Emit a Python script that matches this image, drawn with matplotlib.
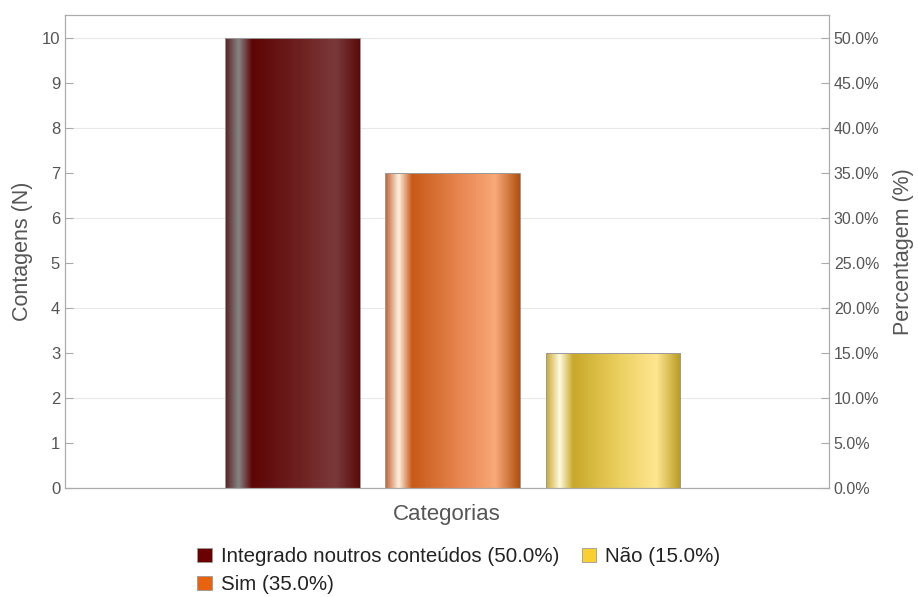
import numpy as np
import matplotlib.pyplot as plt
import matplotlib.colors as mcolors

plt.rcParams['font.family'] = ['Liberation Sans', 'DejaVu Sans']

# Dados
categorias = ['Integrado noutros conteúdos', 'Sim', 'Não']
contagens = [10, 7, 3]
percentagens = [50.0, 35.0, 15.0]
cores = ['#6b0000', '#e8620f', '#f9d030']

# perfis de cor horizontais (brilho metálico) de cada barra
paradas = [0.0, 0.1, 0.2, 0.55, 0.82, 1.0]
perfis = [
    ['#5a2020', '#858585', '#5e0505', '#6e2020', '#7a3a3a', '#5a0a0a'],
    ['#c06030', '#fff0e0', '#c85a18', '#e88550', '#f8a878', '#b05010'],
    ['#c8a830', '#fffbe0', '#c9a82a', '#ecd060', '#ffe690', '#b89a20'],
]

cinza = '#555555'
fig = plt.figure(figsize=(9.18, 5.97), dpi=100)
ax = fig.add_axes([65 / 918, 1 - 488 / 597, (829 - 65) / 918, (488 - 15) / 597])

pos = np.arange(len(categorias)) - 1
largura = 0.84


def gradiente(perfil):
    cols = np.array([mcolors.to_rgb(c) for c in perfil])
    t = np.linspace(0, 1, 300)
    out = np.zeros((1, 300, 3))
    for k in range(3):
        out[0, :, k] = np.interp(t, paradas, cols[:, k])
    return out


barras = ax.bar(pos, contagens, width=largura, color=cores, linewidth=0, zorder=2)
for barra, perfil in zip(barras, perfis):
    x0 = barra.get_x()
    im = ax.imshow(gradiente(perfil), extent=(x0, x0 + barra.get_width(), 0, barra.get_height()),
                   aspect='auto', zorder=2.5, interpolation='bilinear')
    im.set_clip_path(barra)
    ax.add_patch(plt.Rectangle((x0, 0), barra.get_width(), barra.get_height(),
                               fill=False, edgecolor='#9a9a9a', linewidth=0.7, zorder=3))

ax.set_xlim(-2.42, 2.35)
ax.set_ylim(0, 10.5)
ax.set_xticks(pos)
ax.set_xticklabels([])
ax.tick_params(axis='x', direction='in', length=4, colors='#aaaaaa')
ax.set_yticks(range(0, 11))
for y in range(0, 11, 2):
    ax.axhline(y, color='#e8e8e8', linewidth=0.8, zorder=0)
ax.tick_params(axis='y', direction='in', length=6, colors='#aaaaaa', labelcolor=cinza, labelsize=12)
ax.set_ylabel('Contagens (N)', fontsize=15.5, color=cinza, labelpad=6)
ax.set_xlabel('Categorias', fontsize=16, color=cinza, labelpad=8)
for s in ax.spines.values():
    s.set_color('#aaaaaa')

ax2 = ax.twinx()
ax2.set_ylim(0, 52.5)
ax2.set_yticks(np.arange(0, 51, 5))
ax2.set_yticklabels([f'{v:.1f}%' for v in np.arange(0, 51, 5)])
ax2.tick_params(axis='y', direction='in', length=6, colors='#aaaaaa', labelcolor=cinza, labelsize=11.5)
ax2.set_ylabel('Percentagem (%)', fontsize=15.5, color=cinza, labelpad=10)
for s in ax2.spines.values():
    s.set_color('#aaaaaa')

handles = [plt.Rectangle((0, 0), 1, 1, facecolor=c, edgecolor='#999999', linewidth=0.6) for c in cores]
labels = [f'{c} ({p:.1f}%)' for c, p in zip(categorias, percentagens)]
fig.legend(handles, labels, loc='upper left', bbox_to_anchor=(189 / 918, 1 - 539 / 597),
           ncol=2, frameon=False, fontsize=14.8, labelcolor='#222222',
           handlelength=0.7, handleheight=0.7, handletextpad=0.45, columnspacing=1.1,
           labelspacing=0.45, borderaxespad=0)

fig.savefig('out.png', dpi=100)
